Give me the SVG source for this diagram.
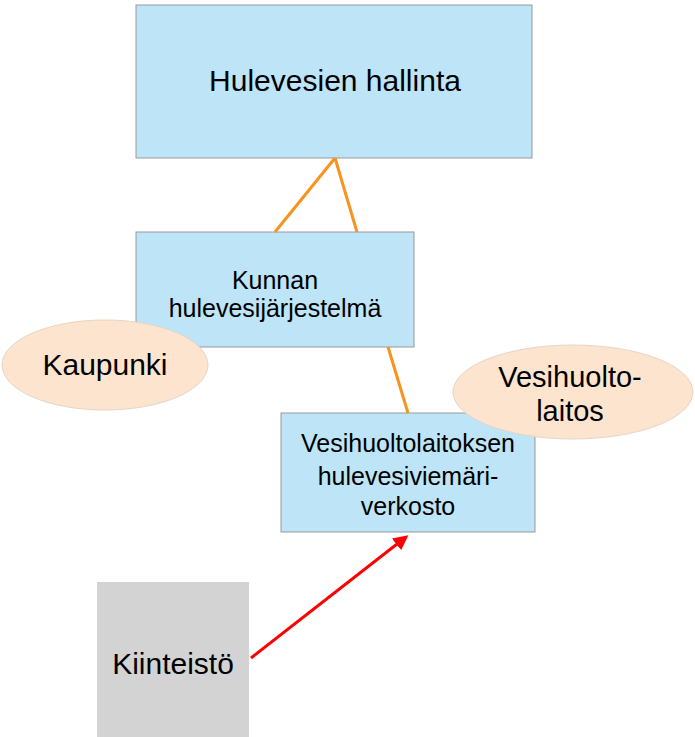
<svg xmlns="http://www.w3.org/2000/svg" width="695" height="737" viewBox="0 0 695 737">
<defs>
<style>
.box{fill:#BDE4F7;stroke:#9a9a9a;stroke-width:1}
.ell{fill:#FCE4CF;stroke:#e8d4c4;stroke-width:1}
text{font-family:"Liberation Sans",Arial,sans-serif;fill:#000;text-anchor:middle}
.o{stroke:#F7931E;stroke-width:3;fill:none}
</style>
<marker id="ar" viewBox="0 0 10 10" refX="8" refY="5" markerWidth="5" markerHeight="5" orient="auto"><path d="M0,0 L10,5 L0,10 z" fill="#FF0000"/></marker>
</defs>
<rect width="695" height="737" fill="#fff"/>
<g id="top"><rect class="box" x="136" y="5" width="396" height="153"/><text x="335" y="91" font-size="30">Hulevesien hallinta</text></g>
<g id="kunnan"><rect class="box" x="136" y="232" width="278" height="115"/><text x="275" y="289" font-size="25">Kunnan</text><text x="275" y="317" font-size="25">hulevesijärjestelmä</text></g>
<g id="verkosto"><rect class="box" x="281" y="413" width="254" height="119"/><text x="408" y="452" font-size="25">Vesihuoltolaitoksen</text><text x="408" y="485" font-size="25">hulevesiviemäri-</text><text x="408" y="515" font-size="25">verkosto</text></g>
<g id="kiinteisto"><rect x="97" y="582" width="152" height="155" fill="#D3D3D3"/><text x="173" y="674" font-size="30">Kiinteistö</text></g>
<g id="connectors">
<path class="o" d="M335,158 L275,232 M335,158 L357,232 M388,347 L408,413"/>
<line x1="251" y1="658" x2="406" y2="537" stroke="#FF0000" stroke-width="3" marker-end="url(#ar)"/>
</g>
<g id="kaupunki"><ellipse class="ell" cx="105" cy="365" rx="103" ry="45"/><text x="105" y="375" font-size="30">Kaupunki</text></g>
<g id="vesihuolto"><ellipse class="ell" cx="573" cy="392" rx="120" ry="47"/><text x="570" y="387" font-size="29">Vesihuolto-</text><text x="570" y="421" font-size="29">laitos</text></g>
</svg>
